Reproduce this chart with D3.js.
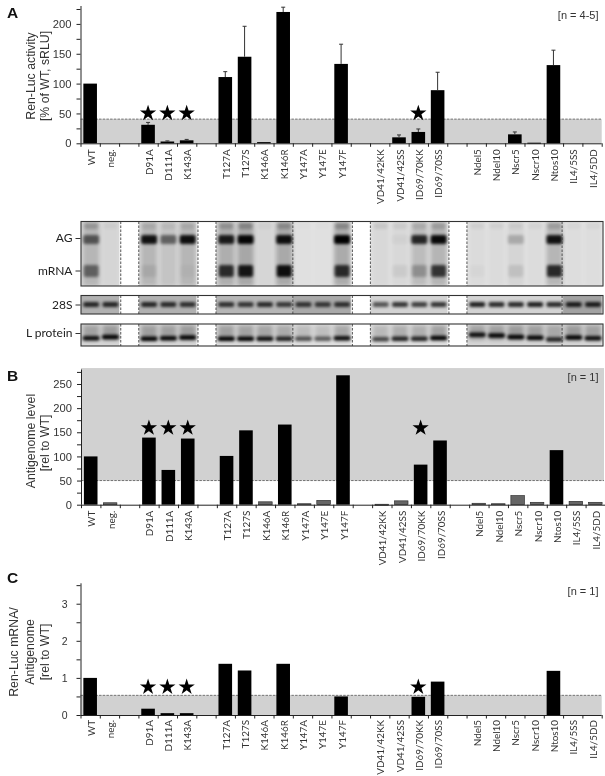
<!DOCTYPE html>
<html><head><meta charset="utf-8">
<script src="https://cdnjs.cloudflare.com/ajax/libs/d3/7.8.5/d3.min.js"></script>
<style>html,body{margin:0;padding:0;background:#fff}svg{display:block;filter:blur(0.3px)}</style>
</head><body><svg id="c" width="605" height="776"></svg>
<script>
// ---------- data ----------
const categories = ["WT","neg.","","D91A","D111A","K143A","","T127A","T127S","K146A","K146R","Y147A","Y147E","Y147F","","VD41/42KK","VD41/42SS","ID69/70KK","ID69/70SS","","Ndel5","Ndel10","Nscr5","Nscr10","Ntos10","IL4/5SS","IL4/5DD"];
const activity  = [100,0,null,31,3,5,null,111,145,2,220,0,0,133,null,0,10,19,89,null,0,0,15,1,131,0,0];
const activityHi= [100,0,null,35,4,6.5,null,120,196,2.5,228,0,0,166,null,0,14,24,119,null,0,0,19,1.5,156,0,0];
const antigenome= [100,4,null,139,72,137,null,101,154,6,166,2,9,268,null,1,8,83,133,null,3,2,19,5,113,7,5];
const ratio     = [1,0,null,0.17,0.05,0.05,null,1.38,1.2,0,1.38,0,0,0.5,null,0,0,0.49,0.9,null,0,0,0,0,1.19,0,0];
const starred   = ["D91A","D111A","K143A","ID69/70KK"];
const blotAG    = [.55,0,null,.9,.5,.92,null,.85,.97,0,.92,0,0,1,null,0,.03,.8,.95,null,0,0,.2,0,.9,0,0];
const blotMRNA  = [.5,0,null,.08,0,.03,null,.8,.92,0,.97,0,0,.8,null,0,.06,.25,.75,null,.02,0,.1,0,.82,0,0];
const blotWell  = [.18,.04,null,.08,.06,.08,null,.18,.22,.03,.2,.01,.01,.22,null,.08,.06,.1,.14,null,.05,.05,.05,.04,.14,.03,.03];
const blot28S   = [.8,.8,null,.8,.78,.75,null,.75,.72,.78,.7,.72,.7,.75,null,.6,.75,.7,.75,null,.85,.8,.8,.85,.8,.85,.85];
const blotL     = [.85,.97,null,.9,.88,.95,null,.92,.9,.85,.75,.55,.5,.85,null,.6,.75,.75,.97,null,.85,.9,.97,.9,.75,.97,.85];
const blotLPos  = [.58,.52,null,.6,.58,.55,null,.6,.6,.6,.6,.6,.6,.58,null,.62,.6,.6,.57,null,.42,.46,.52,.56,.64,.55,.58];
const sectionsGroups = [[0,1],[3,4,5],[7,8,9,10],[11,12,13],[15,16,17,18],[20,21,22,23,24],[25,26]];
const shade28S  = [.27,.27,.25,.3,.13,.13,.33];
const shadeRNA  = [.1,.1,.1,.07,.07,.07,.07];
const shadeL    = [.12,.12,.1,.08,.08,.12,.12];
const ticksA = d3.range(0,226,25), ticksB = d3.range(0,276,25), ticksC = d3.range(0,3.6,0.5);

// ---------- helpers ----------
const svg = d3.select("#c");
const slots = categories.map((c,i)=>i);
const sans = "'Liberation Sans',Arial,sans-serif", lab = "Lato,'Open Sans',sans-serif";
const defs = svg.append("defs");
defs.append("filter").attr("id","b1").attr("x","-30%").attr("y","-100%").attr("width","160%").attr("height","300%")
    .append("feGaussianBlur").attr("stdDeviation","1.5");
defs.append("filter").attr("id","b3").attr("x","-30%").attr("y","-30%").attr("width","160%").attr("height","160%")
    .append("feGaussianBlur").attr("stdDeviation","2");

function chart(o){
  const x = d3.scaleBand().domain(slots).range([o.x0,o.x1]);
  const xEdge = d3.scaleLinear().domain([0,slots.length]).range([o.x0,o.x1]);
  const y = d3.scaleLinear().domain([0,o.top]).range([o.y0,o.y1]);
  const g = svg.append("g");
  const lo = y(o.bandLo), hi = y(o.bandHi);
  g.append("rect").attr("x",o.x0).attr("width",o.bandEnd-o.x0).attr("y",hi).attr("height",lo-hi).attr("fill","#d1d1d1");
  const th = o.dash;
  g.append("line").attr("x1",o.x0).attr("x2",o.bandEnd).attr("y1",y(th)).attr("y2",y(th))
    .attr("stroke","#555").attr("stroke-width",0.8).attr("stroke-dasharray","2.5,1.2");
  // bars
  const w = 13.6;
  g.selectAll("rect.bar").data(slots.filter(i=>o.values[i]>0)).join("rect").attr("class","bar")
    .attr("x",i=>x(i)+x.bandwidth()/2-w/2).attr("width",w)
    .attr("y",i=>y(o.values[i])).attr("height",i=>Math.max(1,o.y0-y(o.values[i])))
    .attr("fill",i=>o.light && o.values[i]<=o.light ? "#666":"#000")
    .attr("stroke",i=>o.light && o.values[i]<=o.light ? "#222":"none").attr("stroke-width",0.6);
  // error bars
  if(o.hi){
    const e = g.selectAll("g.err").data(slots.filter(i=>o.hi[i]>o.values[i]+0.6)).join("g").attr("class","err").attr("stroke","#333").attr("stroke-width",1);
    e.append("line").attr("x1",i=>x(i)+x.bandwidth()/2).attr("x2",i=>x(i)+x.bandwidth()/2).attr("y1",i=>y(o.values[i])).attr("y2",i=>y(o.hi[i]));
    e.append("line").attr("x1",i=>x(i)+x.bandwidth()/2-2).attr("x2",i=>x(i)+x.bandwidth()/2+2).attr("y1",i=>y(o.hi[i])).attr("y2",i=>y(o.hi[i]));
  }
  // stars
  g.selectAll("path.star").data(slots.filter(i=>starred.includes(categories[i]))).join("path").attr("class","star")
    .attr("d",d3.symbol(d3.symbolStar,82))
    .attr("transform",i=>`translate(${x(i)+x.bandwidth()/2},${y(o.star)+1})`).attr("fill","#000");
  // y axis
  const ay = g.append("g").attr("transform",`translate(${o.x0},0)`)
    .call(d3.axisLeft(y).tickValues(o.ticks).tickSize(4).tickPadding(o.pad||5).tickFormat(d=>o.labelled(d)?d3.format("d")(d):""));
  ay.selectAll("path").attr("stroke","#222").attr("stroke-width",1).attr("d",`M0.5,${o.y0}V${o.y1}`);
  ay.selectAll("line").attr("stroke","#222");
  ay.selectAll("text").attr("font-family",sans).attr("font-size",o.tickFont||11.2).attr("fill","#333");
  // x axis: ticks sit on slot edges
  const ae = g.append("g").attr("transform",`translate(0,${o.y0})`)
    .call(d3.axisBottom(xEdge).tickValues(d3.range(0,slots.length+1)).tickSize(3.5).tickFormat(""));
  ae.selectAll("path").attr("stroke","#222").attr("stroke-width",1).attr("d",`M${o.x0},0.5H${o.x1}`);
  ae.selectAll("line").attr("stroke","#222");
  // rotated category labels
  const ac = g.append("g").attr("transform",`translate(0,${o.y0})`)
    .call(d3.axisBottom(x).tickSize(0).tickFormat(i=>categories[i]));
  ac.select("path").remove();
  ac.selectAll("text").attr("font-family",lab).attr("font-size",9.9).attr("fill","#333")
    .attr("text-anchor","end").attr("dy",0)
    .attr("transform",`translate(4.5,${o.labelGap-3}) rotate(-90)`).attr("y",0).attr("x",0);
  // titles
  o.title.forEach(t=>g.append("text").attr("transform",`translate(${t[0]},${t[1]}) rotate(-90)`)
    .attr("text-anchor","middle").attr("font-family",sans).attr("font-size",12.3).attr("fill","#333").text(t[2]));
  g.append("text").attr("x",7).attr("y",o.letterY).attr("font-family",sans).attr("font-weight","bold").attr("font-size",15.5).attr("fill","#111").text(o.letter);
  g.append("text").attr("x",598.5).attr("y",o.noteY).attr("text-anchor","end").attr("font-family",sans).attr("font-size",11).attr("fill","#333").text(o.note);
  return x;
}

const xA = chart({x0:80.5,x1:601.7,y0:143.3,y1:6,top:230,values:activity,hi:activityHi,bandLo:0,bandHi:40.5,dash:40.5,bandEnd:601.7,star:52,
  ticks:ticksA,labelled:d=>d%50===0,letter:"A",letterY:18,note:"[n = 4-5]",noteY:19,labelGap:9,
  title:[[35,76,"Ren-Luc activity"],[49,76,"[% of WT, sRLU]"]]});
chart({x0:81,x1:605,y0:504.7,y1:369.5,top:280,values:antigenome,bandLo:50,bandHi:283,dash:50,bandEnd:604,star:161,light:20,
  ticks:ticksB,labelled:d=>d%50===0,letter:"B",letterY:381,note:"[n = 1]",noteY:381,labelGap:9,
  title:[[35,441,"Antigenome level"],[49,443,"[rel to WT]"]]});
chart({x0:80.5,x1:601.7,y0:715,y1:583.3,top:3.55,values:ratio,bandLo:0,bandHi:0.53,dash:0.53,bandEnd:601.7,star:0.78,
  ticks:ticksC,labelled:d=>Number.isInteger(d),letter:"C",letterY:583,note:"[n = 1]",noteY:595,labelGap:8,pad:9,tickFont:10.5,
  title:[[18,652,"Ren-Luc mRNA/"],[34,652,"Antigenome"],[49,652,"[rel to WT]"]]});

// ---------- blots ----------
function blot(id,top,bottom,shades,layers,label){
  const g = svg.append("g");
  const cx = i=>xA(i)+xA.bandwidth()/2+1;
  defs.append("clipPath").attr("id",id).append("rect").attr("x",81).attr("y",top).attr("width",522).attr("height",bottom-top);
  const inner = g.append("g").attr("clip-path",`url(#${id})`);
  const grey = d3.scaleLinear().domain([0,1]).range(["#f2f2f2","#000"]);
  inner.append("rect").attr("x",81).attr("y",top).attr("width",522).attr("height",bottom-top).attr("fill","#f2f2f2");
  const secs = sectionsGroups.map((s,k)=>({s,k}));
  inner.selectAll("rect.sec").data(secs).join("rect").attr("class","sec")
    .attr("x",d=>xA(d.s[0])).attr("width",d=>xA.bandwidth()*d.s.length).attr("y",top).attr("height",bottom-top)
    .attr("fill",d=>grey(shades[d.k]));
  layers.forEach(L=>{
    const lanes = slots.filter(i=>L.values[i]>0);
    if(L.smear) inner.selectAll(null).data(lanes).join("rect").attr("filter","url(#b3)")
      .attr("x",i=>cx(i)-8).attr("width",16).attr("y",L.smear[0]).attr("height",L.smear[1]-L.smear[0])
      .attr("fill","#000").attr("opacity",i=>L.values[i]*L.smearK);
    inner.selectAll(null).data(lanes).join("rect").attr("filter","url(#b1)")
      .attr("x",i=>cx(i)-L.w/2).attr("width",L.w).attr("rx",2)
      .attr("y",i=>L.y(i)-L.h/2).attr("height",L.h)
      .attr("fill","#000").attr("opacity",i=>Math.min(1,L.values[i]*(L.k||1)));
  });
  // white gaps between sample groups, and the dashed dividers
  const gaps = slots.filter(i=>categories[i]==="");
  inner.selectAll("rect.gap").data(gaps).join("rect").attr("class","gap")
    .attr("x",i=>cx(i)-9).attr("width",18).attr("y",top).attr("height",bottom-top).attr("fill","#fff");
  const dashX = [];
  gaps.forEach(i=>{dashX.push(cx(i)-9,cx(i)+9)});
  dashX.push(xA.step()*11+80.5, xA.step()*25+79.5);
  inner.selectAll("line").data(dashX).join("line").attr("x1",d=>d).attr("x2",d=>d).attr("y1",top).attr("y2",bottom)
    .attr("stroke","#444").attr("stroke-width",0.9).attr("stroke-dasharray","2.5,1.5");
  g.append("rect").attr("x",81).attr("y",top).attr("width",522).attr("height",bottom-top).attr("fill","none").attr("stroke","#333").attr("stroke-width",1.1);
  label.forEach(t=>{
    g.append("text").attr("x",72.5).attr("y",t[0]+4).attr("text-anchor","end").attr("font-family",lab).attr("font-size",t[2]||12).attr("fill","#222").text(t[1]);
    g.append("line").attr("x1",75.5).attr("x2",80.5).attr("y1",t[0]+.5).attr("y2",t[0]+.5).attr("stroke","#333");
  });
}
blot("ag",221.5,286,shadeRNA,[
  {values:blotWell,y:()=>226,h:6,w:14,smear:[222,286],smearK:.5},
  {values:blotAG,y:()=>239.5,h:9,w:16,smear:[222,286],smearK:.14,k:1},
  {values:blotMRNA,y:()=>271,h:12,w:15,k:.95}
],[[238,"AG"],[270.5,"mRNA"]]);
const y28 = ()=>304.5;
blot("r28",295.5,314,shade28S,[{values:blot28S,y:y28,h:5,w:16,k:1}],[[304.5,"28S"]]);
const yL = d3.scaleLinear().domain([0,1]).range([324,346]);
blot("lp",324,346,shadeL,[
  {values:blotL,y:i=>yL(blotLPos[i])+1.5,h:4.5,w:17,smear:[325,340],smearK:.28,k:1.1}
],[[333,"L protein"]]);
</script></body></html>
